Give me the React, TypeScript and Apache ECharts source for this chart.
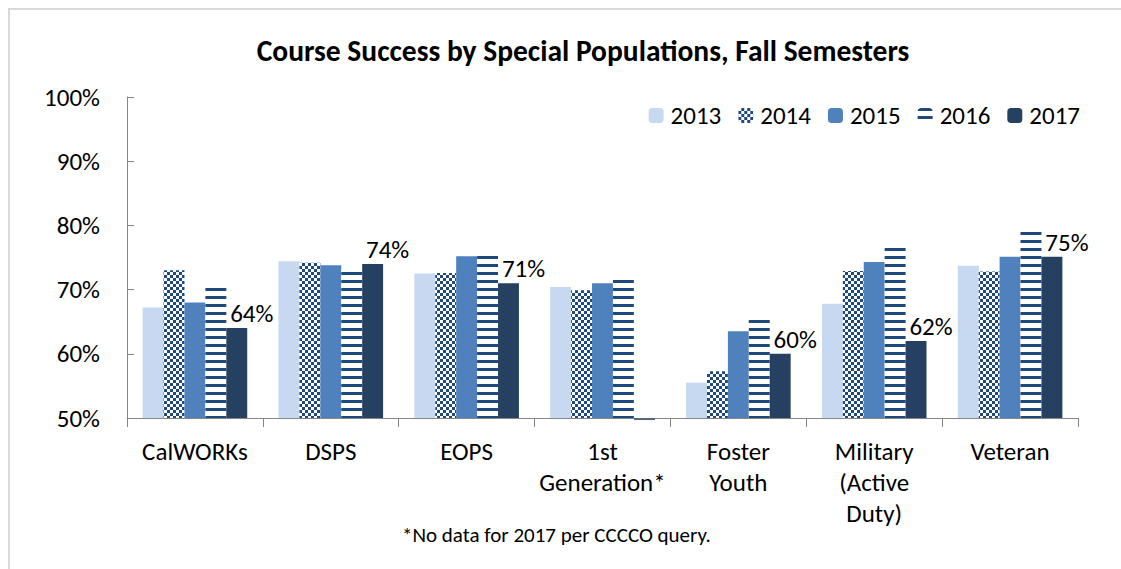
import React, { useEffect, useRef } from "react";
import * as echarts from "echarts";

const categories = [
  "CalWORKs",
  "DSPS",
  "EOPS",
  "1st\nGeneration*",
  "Foster\nYouth",
  "Military\n(Active\nDuty)",
  "Veteran",
];
const years = ["2013", "2014", "2015", "2016", "2017"];
const v2013 = [67.2, 74.4, 72.5, 70.4, 55.5, 67.8, 73.7];
const v2014 = [73.0, 74.2, 72.6, 69.9, 57.3, 72.9, 72.8];
const v2015 = [68.0, 73.8, 75.2, 71.0, 63.5, 74.3, 75.1];
const v2016 = [70.6, 73.1, 75.5, 71.6, 65.6, 76.8, 79.1];
const v2017 = [64.0, 74.0, 71.0, null, 60.0, 62.0, 75.1];
// 1st Generation 2017 has no data: shown as a sliver just below the axis
const noData2017 = [null, null, null, 49.8, null, null, null];
const yTicks = { min: 50, max: 100, interval: 10 };
const titleText = "Course Success by Special Populations, Fall Semesters";
const footnote = "*No data for 2017 per CCCCO query.";

const FONT = "Carlito, Calibri, Lato, sans-serif";
const DARK = "#1F497D";

export default function App() {
  const ref = useRef<HTMLDivElement>(null);
  useEffect(() => {
    if (!ref.current) return;
    const chart = echarts.init(ref.current, undefined, { renderer: "svg" });
    const checker = {
      symbol: "rect",
      symbolSize: 1,
      color: DARK,
      dashArrayX: [[3, 3], [0, 3, 3, 0]],
      dashArrayY: [3, 0],
      rotation: 0,
    };
    const stripes = {
      symbol: "rect",
      symbolSize: 1,
      color: DARK,
      dashArrayX: [1, 0],
      dashArrayY: [3, 5],
      rotation: 0,
    };
    const values = [v2013, v2014, v2015, v2016, v2017];
    const styles: any[] = [
      { color: "#C6D9F1" },
      { color: "#ffffff", decal: checker },
      { color: "#4F81BD" },
      { color: "#ffffff", decal: stripes },
      { color: "#254061" },
    ];
    const series: any[] = years.map((y, i) => ({
      name: y,
      type: "bar",
      data: values[i],
      itemStyle: styles[i],
      barGap: "0%",
      barCategoryGap: "23%",
      label:
        i === 4
          ? {
              show: true,
              position: "top",
              distance: 2,
              offset: [15, 0],
              fontFamily: FONT,
              fontSize: 25,
              color: "#000",
              formatter: (p: any) => Math.round(p.value) + "%",
            }
          : { show: false },
    }));
    series.push({
      name: "2017 (no data)",
      type: "scatter",
      data: noData2017.map((v, i) => [i, v]).filter((d) => d[1] !== null),
      symbol: "rect",
      symbolSize: [21, 1.5],
      symbolOffset: [42, 0],
      itemStyle: { color: "#254061" },
      clip: false,
      silent: true,
    });
    chart.setOption({
      animation: false,
      backgroundColor: "#fff",
      textStyle: { fontFamily: FONT },
      grid: { left: 119, top: 89, right: 43, bottom: 151, containLabel: false },
      legend: {
        data: years,
        right: 41,
        top: 95,
        padding: 0,
        itemWidth: 15,
        itemHeight: 15,
        itemGap: 17,
        textStyle: { fontFamily: FONT, fontSize: 25, color: "#000", padding: [0, 0, 0, 2] },
      },
      xAxis: {
        type: "category",
        data: categories,
        axisLine: { show: true, lineStyle: { color: "#868686", width: 1 } },
        axisTick: { show: true, length: 9, lineStyle: { color: "#868686" } },
        axisLabel: {
          interval: 0,
          margin: 18,
          fontFamily: FONT,
          fontSize: 25,
          lineHeight: 31,
          color: "#000",
        },
        splitLine: { show: false },
      },
      yAxis: {
        type: "value",
        min: yTicks.min,
        max: yTicks.max,
        interval: yTicks.interval,
        axisLine: { show: true, lineStyle: { color: "#868686", width: 1 } },
        axisTick: { show: true, inside: true, length: 7, lineStyle: { color: "#868686" } },
        axisLabel: {
          formatter: "{value}%",
          margin: 27,
          fontFamily: FONT,
          fontSize: 25,
          color: "#000",
        },
        splitLine: { show: false },
      },
      graphic: [
        { type: "line", shape: { x1: 0, y1: 1, x2: 1113, y2: 1 }, style: { stroke: "#d9d9d9", lineWidth: 2 } },
        { type: "line", shape: { x1: 1, y1: 0, x2: 1, y2: 561 }, style: { stroke: "#d9d9d9", lineWidth: 2 } },
        {
          type: "text",
          x: 575,
          y: 43,
          style: {
            text: titleText,
            font: `bold 29.5px ${FONT}`,
            fill: "#000",
            textAlign: "center",
            textVerticalAlign: "middle",
          },
        },
        {
          type: "text",
          x: 394,
          y: 527,
          style: {
            text: footnote,
            font: `21px ${FONT}`,
            fill: "#000",
            textAlign: "left",
            textVerticalAlign: "middle",
          },
        },
      ],
      series,
    });
    return () => chart.dispose();
  }, []);
  return (
    <div
      ref={ref}
      style={{ position: "absolute", left: 8, top: 8, width: 1113, height: 561 }}
    />
  );
}
